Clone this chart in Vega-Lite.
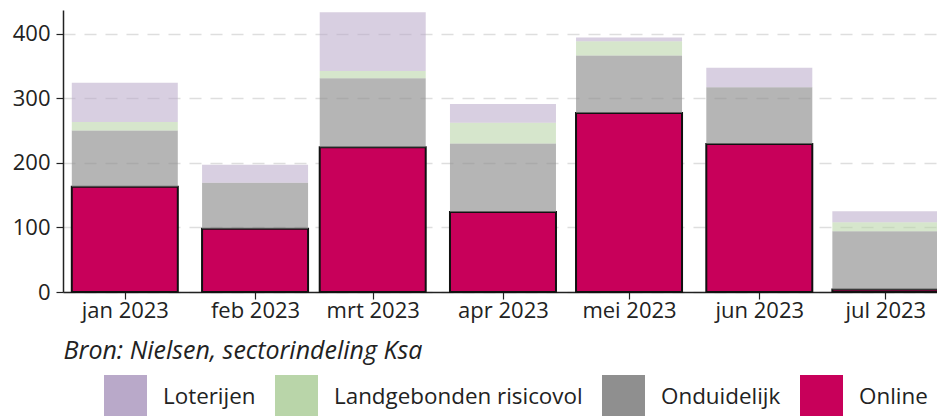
{
  "$schema": "https://vega.github.io/schema/vega-lite/v6.json",
  "width": 874,
  "height": 282,
  "autosize": {"type": "none"},
  "padding": {"left": 63, "top": 10, "right": 0, "bottom": 124},
  "background": "white",
  "data": {
    "values": [
      {"maand": "2023-01-01", "categorie": "Online", "volgorde": 1, "waarde": 163},
      {"maand": "2023-01-01", "categorie": "Onduidelijk", "volgorde": 2, "waarde": 87},
      {"maand": "2023-01-01", "categorie": "Landgebonden risicovol", "volgorde": 3, "waarde": 13},
      {"maand": "2023-01-01", "categorie": "Loterijen", "volgorde": 4, "waarde": 61},
      {"maand": "2023-02-01", "categorie": "Online", "volgorde": 1, "waarde": 98},
      {"maand": "2023-02-01", "categorie": "Onduidelijk", "volgorde": 2, "waarde": 71},
      {"maand": "2023-02-01", "categorie": "Landgebonden risicovol", "volgorde": 3, "waarde": 0},
      {"maand": "2023-02-01", "categorie": "Loterijen", "volgorde": 4, "waarde": 28},
      {"maand": "2023-03-01", "categorie": "Online", "volgorde": 1, "waarde": 224},
      {"maand": "2023-03-01", "categorie": "Onduidelijk", "volgorde": 2, "waarde": 107},
      {"maand": "2023-03-01", "categorie": "Landgebonden risicovol", "volgorde": 3, "waarde": 11},
      {"maand": "2023-03-01", "categorie": "Loterijen", "volgorde": 4, "waarde": 91},
      {"maand": "2023-04-01", "categorie": "Online", "volgorde": 1, "waarde": 124},
      {"maand": "2023-04-01", "categorie": "Onduidelijk", "volgorde": 2, "waarde": 106},
      {"maand": "2023-04-01", "categorie": "Landgebonden risicovol", "volgorde": 3, "waarde": 32},
      {"maand": "2023-04-01", "categorie": "Loterijen", "volgorde": 4, "waarde": 29},
      {"maand": "2023-05-01", "categorie": "Online", "volgorde": 1, "waarde": 277},
      {"maand": "2023-05-01", "categorie": "Onduidelijk", "volgorde": 2, "waarde": 89},
      {"maand": "2023-05-01", "categorie": "Landgebonden risicovol", "volgorde": 3, "waarde": 22},
      {"maand": "2023-05-01", "categorie": "Loterijen", "volgorde": 4, "waarde": 6},
      {"maand": "2023-06-01", "categorie": "Online", "volgorde": 1, "waarde": 229},
      {"maand": "2023-06-01", "categorie": "Onduidelijk", "volgorde": 2, "waarde": 88},
      {"maand": "2023-06-01", "categorie": "Landgebonden risicovol", "volgorde": 3, "waarde": 0},
      {"maand": "2023-06-01", "categorie": "Loterijen", "volgorde": 4, "waarde": 30},
      {"maand": "2023-07-01", "categorie": "Online", "volgorde": 1, "waarde": 4},
      {"maand": "2023-07-01", "categorie": "Onduidelijk", "volgorde": 2, "waarde": 90},
      {"maand": "2023-07-01", "categorie": "Landgebonden risicovol", "volgorde": 3, "waarde": 14},
      {"maand": "2023-07-01", "categorie": "Loterijen", "volgorde": 4, "waarde": 17}
    ]
  },
  "mark": {"type": "bar", "width": 106, "stroke": "#111111"},
  "encoding": {
    "x": {
      "field": "maand",
      "type": "temporal",
      "scale": {
        "type": "utc",
        "padding": 0,
        "domain": [
          {"year": 2022, "month": 12, "date": 17, "hours": 7, "utc": true},
          {"year": 2023, "month": 7, "date": 13, "hours": 7, "utc": true}
        ]
      },
      "axis": {
        "values": [
          {"year": 2023, "month": 1, "date": 1, "utc": true},
          {"year": 2023, "month": 2, "date": 1, "utc": true},
          {"year": 2023, "month": 3, "date": 1, "utc": true},
          {"year": 2023, "month": 4, "date": 1, "utc": true},
          {"year": 2023, "month": 5, "date": 1, "utc": true},
          {"year": 2023, "month": 6, "date": 1, "utc": true},
          {"year": 2023, "month": 7, "date": 1, "utc": true}
        ],
        "labelExpr": "['jan','feb','mrt','apr','mei','jun','jul','aug','sep','okt','nov','dec'][utcmonth(datum.value)] + ' ' + utcyear(datum.value)",
        "title": "Bron: Nielsen, sectorindeling Ksa",
        "titleFont": "Open Sans",
        "titleFontSize": 25,
        "titleFontStyle": "italic",
        "titleFontWeight": "normal",
        "titleColor": "#222222",
        "titleAnchor": "start",
        "titleAlign": "left",
        "titleBaseline": "alphabetic",
        "titleX": 0,
        "titleY": 66,
        "domainColor": "#222222",
        "domainWidth": 1.5,
        "tickSize": 7,
        "tickColor": "#222222",
        "tickWidth": 1.2,
        "labelFont": "Open Sans",
        "labelFontSize": 22,
        "labelColor": "#222222",
        "labelPadding": 1,
        "labelFlush": false,
        "labelOverlap": false,
        "grid": false
      }
    },
    "y": {
      "field": "waarde",
      "type": "quantitative",
      "stack": "zero",
      "scale": {"domain": [0, 436.5], "nice": false},
      "axis": {
        "values": [0, 100, 200, 300, 400],
        "title": null,
        "domainColor": "#222222",
        "domainWidth": 1.5,
        "tickSize": 7,
        "tickColor": "#222222",
        "tickWidth": 1.2,
        "labelFont": "Open Sans",
        "labelFontSize": 22,
        "labelColor": "#222222",
        "labelPadding": 6,
        "grid": true,
        "gridColor": "#dedede",
        "gridDash": [12, 9],
        "gridWidth": 1.5
      }
    },
    "order": {"field": "volgorde", "type": "quantitative", "sort": "ascending"},
    "color": {
      "field": "categorie",
      "type": "nominal",
      "scale": {
        "domain": ["Loterijen", "Landgebonden risicovol", "Onduidelijk", "Online"],
        "range": ["#B9A9C9", "#B9D5A9", "#8F8F8F", "#C8005A"]
      },
      "legend": {
        "orient": "none",
        "legendX": 41,
        "legendY": 365,
        "direction": "horizontal",
        "title": null,
        "values": ["Loterijen", "Landgebonden risicovol", "Onduidelijk", "Online"],
        "symbolType": "square",
        "symbolSize": 1849,
        "symbolOpacity": 1,
        "symbolStrokeWidth": 0,
        "labelFont": "Open Sans",
        "labelFontSize": 22.4,
        "labelColor": "#222222",
        "labelOffset": 16,
        "labelLimit": 400,
        "columnPadding": 19,
        "padding": 0
      }
    },
    "opacity": {
      "condition": [
        {"test": "datum.categorie === 'Online'", "value": 1},
        {"test": "datum.categorie === 'Onduidelijk'", "value": 0.66},
        {"test": "datum.categorie === 'Landgebonden risicovol'", "value": 0.59}
      ],
      "value": 0.56
    },
    "strokeWidth": {
      "condition": {"test": "datum.categorie === 'Online'", "value": 2},
      "value": 0
    }
  },
  "config": {"view": {"stroke": null}}
}
